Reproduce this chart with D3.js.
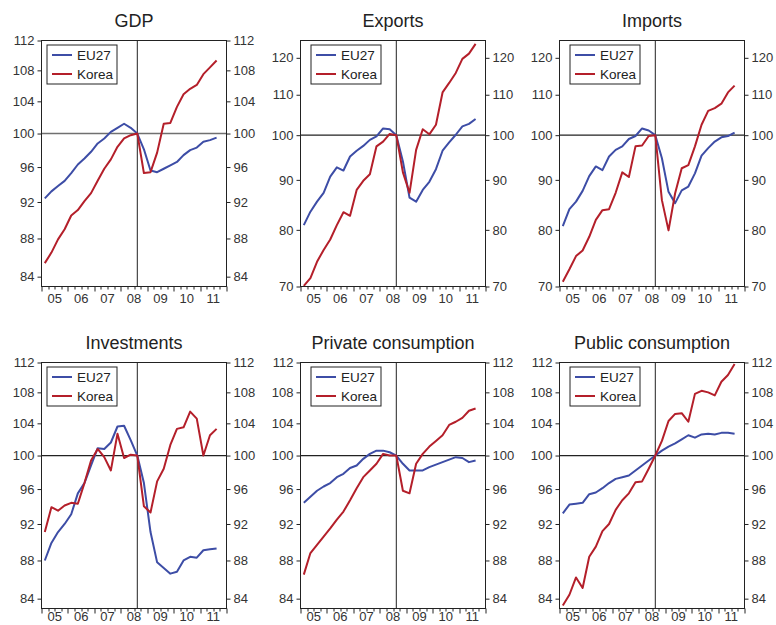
<!DOCTYPE html>
<html>
<head>
<meta charset="utf-8">
<script src="https://cdn.jsdelivr.net/npm/d3@7"></script>
<style>
  html, body { margin: 0; padding: 0; background: #fff; }
  svg { display: block; font-family: "Liberation Sans", Arial, sans-serif; }
</style>
</head>
<body>
<svg id="chart" width="776" height="625"></svg>
<script>
// Quarterly indices, 2008Q3 = 100, from 2005Q1 to 2011Q3 (27 quarters)
const yearLabels = ["05", "06", "07", "08", "09", "10", "11"];
const baseIndex = 14; // 2008Q3
const seriesNames = ["EU27", "Korea"];

const gdpEU = [92.4, 93.2, 93.8, 94.4, 95.3, 96.3, 97.0, 97.8, 98.8, 99.4, 100.2, 100.7, 101.2, 100.7, 100.0, 98.1, 95.6, 95.4, 95.8, 96.2, 96.6, 97.4, 98.0, 98.3, 99.0, 99.2, 99.5];
const gdpKorea = [85.4, 86.5, 87.9, 89.0, 90.5, 91.1, 92.1, 93.0, 94.4, 95.8, 96.9, 98.4, 99.4, 99.8, 100.0, 95.3, 95.4, 97.7, 101.2, 101.3, 103.3, 104.9, 105.6, 106.1, 107.5, 108.4, 109.3];

const exportsEU = [80.9, 83.5, 85.5, 87.3, 90.7, 92.7, 92.0, 95.1, 96.4, 97.5, 98.9, 99.7, 101.6, 101.4, 100.0, 94.0, 86.3, 85.5, 87.9, 89.6, 92.3, 96.4, 98.3, 100.1, 102.1, 102.7, 103.9];
const exportsKorea = [70.1, 71.4, 74.2, 76.3, 78.2, 80.9, 83.4, 82.7, 87.9, 89.8, 91.2, 97.4, 98.5, 100.3, 100.0, 91.6, 87.3, 96.6, 101.4, 100.2, 102.5, 110.6, 113.1, 115.8, 119.7, 121.2, 124.0];

const importsEU = [80.7, 84.0, 85.5, 87.7, 90.8, 92.9, 92.1, 95.1, 96.6, 97.4, 99.1, 99.8, 101.6, 101.1, 100.0, 94.7, 87.5, 85.2, 87.8, 88.6, 91.4, 95.3, 97.0, 98.5, 99.5, 99.8, 100.6];
const importsKorea = [70.8, 72.9, 75.2, 76.2, 78.7, 81.9, 83.8, 84.0, 87.3, 91.6, 90.6, 97.4, 97.6, 99.8, 100.0, 85.8, 79.9, 87.2, 92.5, 93.2, 97.4, 102.5, 105.9, 106.6, 107.7, 110.6, 112.4];

const investEU = [88.0, 89.9, 91.1, 92.0, 93.1, 95.5, 96.7, 98.8, 100.9, 100.8, 101.6, 103.6, 103.7, 101.9, 100.0, 96.7, 91.1, 87.8, 87.2, 86.6, 86.8, 88.0, 88.4, 88.3, 89.1, 89.2, 89.3];
const investKorea = [91.1, 93.9, 93.5, 94.1, 94.4, 94.3, 96.7, 99.4, 100.8, 99.8, 98.2, 102.7, 99.7, 100.1, 100.0, 94.0, 93.3, 96.9, 98.4, 101.3, 103.3, 103.5, 105.5, 104.6, 100.0, 102.5, 103.3];

const privateEU = [94.4, 95.1, 95.8, 96.3, 96.7, 97.4, 97.8, 98.5, 98.8, 99.6, 100.2, 100.6, 100.6, 100.4, 100.0, 99.0, 98.2, 98.2, 98.2, 98.6, 98.9, 99.2, 99.5, 99.8, 99.7, 99.2, 99.4];
const privateKorea = [86.5, 88.8, 89.7, 90.6, 91.5, 92.5, 93.4, 94.7, 96.1, 97.4, 98.2, 99.0, 100.2, 100.0, 100.0, 95.8, 95.5, 99.0, 100.2, 101.1, 101.8, 102.5, 103.8, 104.2, 104.7, 105.6, 105.9];

const publicEU = [93.2, 94.2, 94.3, 94.4, 95.4, 95.6, 96.1, 96.7, 97.2, 97.4, 97.6, 98.2, 98.8, 99.4, 100.0, 100.6, 101.1, 101.5, 102.0, 102.5, 102.2, 102.6, 102.7, 102.6, 102.8, 102.8, 102.7];
const publicKorea = [83.3, 84.4, 86.2, 85.1, 88.4, 89.5, 91.2, 92.0, 93.6, 94.7, 95.5, 96.8, 96.9, 98.4, 100.0, 101.8, 104.3, 105.2, 105.3, 104.2, 107.8, 108.2, 108.0, 107.6, 109.4, 110.3, 111.8];

const domainNarrow = [83, 112];
const domainWide = [70, 125];
const ticksNarrow = [84, 88, 92, 96, 100, 104, 108, 112];
const ticksWide = [70, 80, 90, 100, 110, 120];

const panels = [
  { title: "GDP", eu: gdpEU, korea: gdpKorea, domain: domainNarrow, ticks: ticksNarrow, row: 0, col: 0, refColor: "#707070" },
  { title: "Exports", eu: exportsEU, korea: exportsKorea, domain: domainWide, ticks: ticksWide, row: 0, col: 1 },
  { title: "Imports", eu: importsEU, korea: importsKorea, domain: domainWide, ticks: ticksWide, row: 0, col: 2 },
  { title: "Investments", eu: investEU, korea: investKorea, domain: domainNarrow, ticks: ticksNarrow, row: 1, col: 0 },
  { title: "Private consumption", eu: privateEU, korea: privateKorea, domain: domainNarrow, ticks: ticksNarrow, row: 1, col: 1 },
  { title: "Public consumption", eu: publicEU, korea: publicKorea, domain: domainNarrow, ticks: ticksNarrow, row: 1, col: 2 }
];

const colors = { EU27: "#3d4da6", Korea: "#b41f2a" };

// panel geometry
const colLeft = [41.5, 300.5, 559.5];
const rowTop = [40.5, 362.5];
const yearLabelDy = [16, 12];
const plotW = 185;
const plotH = 246;
const legendDx = [6, 11, 11];

const svg = d3.select("#chart");

panels.forEach(p => {
  const x0 = colLeft[p.col], y0 = rowTop[p.row];
  const g = svg.append("g").attr("transform", `translate(${x0},${y0})`);

  const x = d3.scaleLinear().domain([-0.5, 27.5]).range([0, plotW]);
  const y = d3.scaleLog().domain(p.domain).range([plotH, 0]);

  // title
  g.append("text")
    .attr("x", plotW / 2).attr("y", -14)
    .attr("text-anchor", "middle")
    .attr("font-size", 18).attr("fill", "#222")
    .text(p.title);

  // left and right value axes
  const styleAxis = sel => {
    sel.select(".domain").remove();
    sel.selectAll(".tick line").attr("stroke", "#222");
    sel.selectAll(".tick text").attr("font-size", 13).attr("fill", "#333")
      .attr("font-family", "'Liberation Sans', Arial, sans-serif");
  };
  g.append("g")
    .call(d3.axisLeft(y).tickValues(p.ticks).tickFormat(d3.format("d")).tickSize(4).tickPadding(3))
    .call(styleAxis);
  g.append("g").attr("transform", `translate(${plotW},0)`)
    .call(d3.axisRight(y).tickValues(p.ticks).tickFormat(d3.format("d")).tickSize(4).tickPadding(3))
    .call(styleAxis);

  // bottom time axis: quarter ticks, longer at year boundaries
  const tickPos = d3.range(0, 29).map(k => k - 0.5);
  g.append("g").selectAll("line").data(tickPos).join("line")
    .attr("x1", d => Math.round(x(d)) + 0.5).attr("x2", d => Math.round(x(d)) + 0.5)
    .attr("y1", plotH).attr("y2", (d, k) => plotH + (k % 4 === 0 ? 5 : 3))
    .attr("stroke", "#222").attr("stroke-width", 1);
  g.append("g").selectAll("text").data(yearLabels).join("text")
    .attr("x", (d, k) => x(4 * k + 1.5))
    .attr("y", plotH + yearLabelDy[p.row])
    .attr("text-anchor", "middle")
    .attr("font-size", 13).attr("fill", "#333")
    .text(d => d);

  // reference lines at the base quarter and index 100
  g.append("line")
    .attr("x1", 0).attr("x2", plotW)
    .attr("y1", y(100)).attr("y2", y(100))
    .attr("stroke", p.refColor || "#222")
    .attr("stroke-width", p.refColor ? 1.6 : 1.2);
  g.append("line")
    .attr("x1", x(baseIndex)).attr("x2", x(baseIndex))
    .attr("y1", 0).attr("y2", plotH)
    .attr("stroke", "#222").attr("stroke-width", 1);

  // series
  const line = d3.line().x((d, i) => x(i)).y(d => y(d));
  [["EU27", p.eu], ["Korea", p.korea]].forEach(([name, vals]) => {
    g.append("path")
      .datum(vals)
      .attr("fill", "none")
      .attr("stroke", colors[name])
      .attr("stroke-width", 2)
      .attr("stroke-linejoin", "round")
      .attr("d", line);
  });

  // frame
  g.append("rect")
    .attr("x", 0).attr("y", 0).attr("width", plotW).attr("height", plotH)
    .attr("fill", "none").attr("stroke", "#222").attr("stroke-width", 1);

  // legend
  const lg = g.append("g").attr("transform", `translate(${legendDx[p.col] - 0.5},${4.5})`);
  lg.append("rect")
    .attr("width", 70).attr("height", 39)
    .attr("fill", "#fff").attr("stroke", "#222").attr("stroke-width", 1);
  seriesNames.forEach((name, k) => {
    const ly = 10 + k * 19;
    lg.append("line")
      .attr("x1", 5).attr("x2", 25).attr("y1", ly).attr("y2", ly)
      .attr("stroke", colors[name]).attr("stroke-width", 2);
    lg.append("text")
      .attr("x", 30).attr("y", ly + 5)
      .attr("font-size", 13.5).attr("fill", "#222")
      .text(name);
  });
});
</script>
</body>
</html>
